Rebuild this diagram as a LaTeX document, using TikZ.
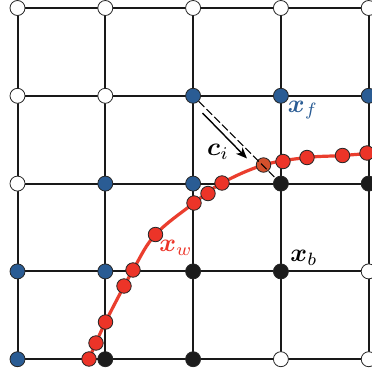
\documentclass[tikz,border=0pt]{standalone}
\usepackage{bm}
\usetikzlibrary{arrows.meta,backgrounds}
\definecolor{gblue}{RGB}{42,92,148}
\definecolor{gred}{RGB}{236,52,40}
\definecolor{gline}{RGB}{234,62,46}
\definecolor{ghatch}{RGB}{212,80,44}
\definecolor{gblack}{RGB}{28,28,28}
\tikzset{
  gnode/.style={circle,draw=black!85,line width=0.8pt,minimum size=15pt,inner sep=0pt},
  w node/.style={gnode,fill=white},
  b node/.style={gnode,fill=gblue},
  k node/.style={gnode,fill=gblack},
  rdot/.style={circle,draw=black!85,line width=0.8pt,fill=gred,minimum size=14.5pt,inner sep=0pt},
  hdot/.style={rdot,fill=ghatch},
  gridline/.style={line width=2pt,black!90},
  curveline/.style={gline,line width=3.2pt},
  dashline/.style={line width=1.1pt,black,dash pattern=on 8pt off 3pt},
  cvec/.style={line width=1.4pt,black,-{Stealth[length=11pt,width=9pt,inset=3pt]}},
  lbl/.style={scale=2.55,inner sep=0pt},
}
\begin{document}
\begin{tikzpicture}[x=1pt,y=-1pt]
\useasboundingbox (0,0) rectangle (372,373);
\clip (0,0) rectangle (372,373);
% grid nodes
\foreach \row [count=\j from 0] in {{w,w,w,w,w},{w,w,b,b,b},{w,b,b,k,k},{b,b,k,k,w},{b,k,k,w,w}} {
  \foreach \c [count=\i from 0] in \row {
    \node[\c\space node] (n\i\j) at ({17.5+87.8*\i},{8+87.8*\j}) {};
  }
}
% grid lines
\begin{pgfonlayer}{background}
  \foreach \k in {0,...,4} {
    \draw[gridline] (n0\k.center) -- (n4\k.center);
    \draw[gridline] (n\k0.center) -- (n\k4.center);
  }
\end{pgfonlayer}
% red curve
\coordinate (d1) at (89,359);
\coordinate (d2) at (96,343);
\coordinate (d3) at (105.5,322);
\coordinate (d4) at (124,286);
\coordinate (d5) at (133,270);
\coordinate (d6) at (155.5,234.5);
\coordinate (d7) at (194,203);
\coordinate (d8) at (208,193.5);
\coordinate (d9) at (222,183);
\coordinate (dh) at (263.5,165);
\coordinate (d10) at (283,161.5);
\coordinate (d11) at (307,157.5);
\coordinate (d12) at (342.5,155.5);
\coordinate (d13) at (367,153);
\coordinate (dend) at (385,152);
\draw[curveline] plot[smooth,tension=0.6] coordinates {(d1) (d3) (d5) (d6) (d7) (d9) (dh) (d11) (d12) (dend)};
\foreach \d in {d1,d2,d3,d4,d5,d6,d7,d8,d9,d10,d11,d12,d13} {
  \node[rdot] (r\d) at (\d) {};
}
\node[hdot] (rdh) at (dh) {};
% dashed line and vector
\draw[dashline] (n21.south east) -- (n32.north west);
\coordinate (a1) at (202.5,113);
\coordinate (a2) at (247,158.5);
\draw[cvec] (a1) -- (a2);
% labels
\node[lbl,text=gblue] (xf) at (303,110) {$\bm{x}_f$};
\node[lbl] (ci) at (218,152) {$\bm{c}_i$};
\node[lbl,text=gred] (xw) at (176,248) {$\bm{x}_w$};
\node[lbl] (xb) at (304,258) {$\bm{x}_b$};
\end{tikzpicture}
\end{document}
